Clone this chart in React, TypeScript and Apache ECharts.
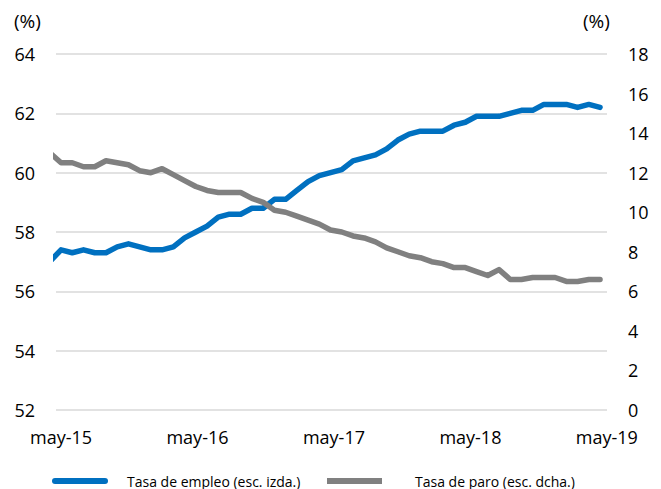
import React, { useEffect, useRef } from "react";
import * as echarts from "echarts";

// Spanish month abbreviations used for the monthly category labels
const monthNames = ["ene", "feb", "mar", "abr", "may", "jun", "jul", "ago", "sep", "oct", "nov", "dic"];

// Monthly categories from abr-15 (x = -1, clipped by the axis) to may-19 (x = 48)
const months: string[] = [];
for (let y = 2015; y <= 2019; y++) {
  for (let m = 0; m < 12; m++) {
    if ((y === 2015 && m < 3) || (y === 2019 && m > 4)) continue;
    months.push(monthNames[m] + "-" + String(y).slice(2));
  }
}

// Tasa de empleo (%), left scale
const employment = [
  57.0, 57.4, 57.3, 57.4, 57.3, 57.3, 57.5, 57.6, 57.5, 57.4,
  57.4, 57.5, 57.8, 58.0, 58.2, 58.5, 58.6, 58.6, 58.8, 58.8,
  59.1, 59.1, 59.4, 59.7, 59.9, 60.0, 60.1, 60.4, 60.5, 60.6,
  60.8, 61.1, 61.3, 61.4, 61.4, 61.4, 61.6, 61.7, 61.9, 61.9,
  61.9, 62.0, 62.1, 62.1, 62.3, 62.3, 62.3, 62.2, 62.3, 62.2,
];

// Tasa de paro (%), right scale
const unemployment = [
  13.0, 12.5, 12.5, 12.3, 12.3, 12.6, 12.5, 12.4, 12.1, 12.0,
  12.2, 11.9, 11.6, 11.3, 11.1, 11.0, 11.0, 11.0, 10.7, 10.5,
  10.1, 10.0, 9.8, 9.6, 9.4, 9.1, 9.0, 8.8, 8.7, 8.5,
  8.2, 8.0, 7.8, 7.7, 7.5, 7.4, 7.2, 7.2, 7.0, 6.8,
  7.1, 6.6, 6.6, 6.7, 6.7, 6.7, 6.5, 6.5, 6.6, 6.6,
];

// x positions (month index relative to may-15) where labels are shown
const labelMonths = [0, 12, 24, 36, 48];

const seriesNames = ["Tasa de empleo (esc. izda.)", "Tasa de paro (esc. dcha.)"];
const unitLabel = "(%)";

const FONT = "'Open Sans', 'Liberation Sans', sans-serif";

export default function App() {
  const ref = useRef<HTMLDivElement>(null);

  useEffect(() => {
    if (!ref.current) return;
    const chart = echarts.init(ref.current, null, { renderer: "svg" });
    const toPairs = (arr: number[]) => arr.map((v, k) => [k - 1, v]);

    chart.setOption({
      animation: false,
      backgroundColor: "#ffffff",
      textStyle: { fontFamily: FONT },
      grid: { left: 56, right: 54, top: 54, bottom: 79, containLabel: false },
      graphic: [
        {
          type: "text",
          left: 14,
          top: 11,
          style: { text: unitLabel, fontSize: 19, fill: "#000", fontFamily: FONT },
        },
        {
          type: "text",
          left: 583,
          top: 11,
          style: { text: unitLabel, fontSize: 19, fill: "#000", fontFamily: FONT },
        },
      ],
      legend: [
        {
          left: 47,
          top: 469,
          itemWidth: 56,
          itemHeight: 6,
          selectedMode: false,
          data: [{ name: seriesNames[0], icon: "path://M3 0H53A3 3 0 0 1 53 6H3A3 3 0 0 1 3 0Z" }],
          textStyle: { fontSize: 14, color: "#000", fontFamily: FONT, padding: [0, 0, 0, 14] },
        },
        {
          left: 322,
          top: 469,
          itemWidth: 55,
          itemHeight: 6,
          selectedMode: false,
          data: [{ name: seriesNames[1], icon: "rect" }],
          textStyle: { fontSize: 14, color: "#000", fontFamily: FONT, padding: [0, 0, 0, 28] },
        },
      ],
      xAxis: [
        {
          type: "value",
          min: -0.45,
          max: 48.62,
          axisLine: { show: false },
          axisTick: { show: false },
          axisLabel: { show: false },
          splitLine: { show: false },
        },
        {
          type: "value",
          position: "bottom",
          min: -0.44,
          max: 48.01,
          axisLine: { show: false },
          axisTick: { show: false },
          splitLine: { show: false },
          axisLabel: {
            customValues: labelMonths,
            formatter: (v: number) => months[Math.round(v) + 1],
            fontSize: 18,
            color: "#000",
            fontFamily: FONT,
            margin: 18,
          },
        },
      ],
      yAxis: [
        {
          type: "value",
          position: "left",
          min: 52,
          max: 64,
          interval: 2,
          axisLine: { show: false },
          axisTick: { show: false },
          axisLabel: { fontSize: 18, color: "#000", fontFamily: FONT, margin: 21 },
          splitLine: { lineStyle: { color: "#d9d9d9", width: 1.5 } },
        },
        {
          type: "value",
          position: "right",
          min: 0,
          max: 18,
          interval: 2,
          axisLine: { show: false },
          axisTick: { show: false },
          axisLabel: { fontSize: 18, color: "#000", fontFamily: FONT, margin: 21 },
          splitLine: { show: false },
        },
      ],
      series: [
        {
          name: seriesNames[0],
          type: "line",
          xAxisIndex: 0,
          yAxisIndex: 0,
          data: toPairs(employment),
          showSymbol: false,
          symbol: "none",
          clip: true,
          color: "#0070C0",
          lineStyle: { color: "#0070C0", width: 5.5, cap: "round", join: "round" },
        },
        {
          name: seriesNames[1],
          type: "line",
          xAxisIndex: 0,
          yAxisIndex: 1,
          data: toPairs(unemployment),
          showSymbol: false,
          symbol: "none",
          clip: true,
          color: "#808080",
          lineStyle: { color: "#808080", width: 5.5, cap: "round", join: "round" },
        },
      ],
    });

    return () => chart.dispose();
  }, []);

  return (
    <div
      ref={ref}
      style={{ position: "fixed", left: 0, top: 0, width: 661, height: 489, background: "#fff" }}
    />
  );
}
